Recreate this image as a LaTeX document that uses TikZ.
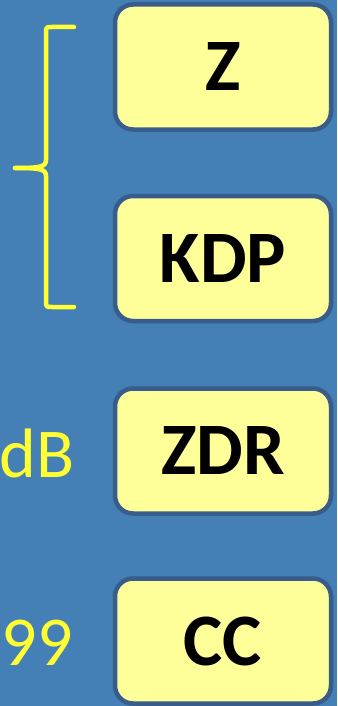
\documentclass[tikz,border=0pt]{standalone}
\usepackage{fontspec}
\setmainfont{Carlito}
\definecolor{bg}{RGB}{68,127,182}
\definecolor{boxfill}{RGB}{255,255,153}
\definecolor{boxedge}{RGB}{56,92,140}
\definecolor{yel}{RGB}{255,255,51}
\tikzset{
  lbox/.style={draw=boxedge, line width=4.5pt, fill=boxfill, rounded corners=18pt,
    minimum width=216pt, minimum height=125pt, inner sep=0pt,
    font=\fontsize{74}{74}\selectfont\bfseries, text=black},
  side/.style={font=\fontsize{70}{70}\selectfont, text=yel, inner sep=0pt, anchor=base east},
  bracel/.style={draw=yel, line width=4.5pt, line cap=round, line join=round}
}
\begin{document}
\begin{tikzpicture}[x=1pt,y=-1pt]
\fill[bg] (0,0) rectangle (337,706);
\useasboundingbox (0,0) rectangle (337,706);
\node[lbox] (z) at (223,67) {Z};
\node[lbox] (kdp) at (223,258.5) {KDP};
\node[lbox] (zdr) at (223,451) {ZDR};
\node[lbox] (cc) at (223,641) {CC};
\node[side] (db) at (75,477) {dB};
\node[side] (nn) at (73,665) {99};
\coordinate (bt) at (74,27);
\coordinate (bb) at (74,307);
\coordinate (bc) at (15,168);
\draw[bracel] (bt) -- (52,27) .. controls (46,27) .. (46,33) -- (46,160)
  .. controls (46,167) and (40,168) .. (bc);
\draw[bracel] (bc) .. controls (40,168) and (46,169) .. (46,176) -- (46,300)
  .. controls (46,307) .. (52,307) -- (bb);
\end{tikzpicture}
\end{document}
